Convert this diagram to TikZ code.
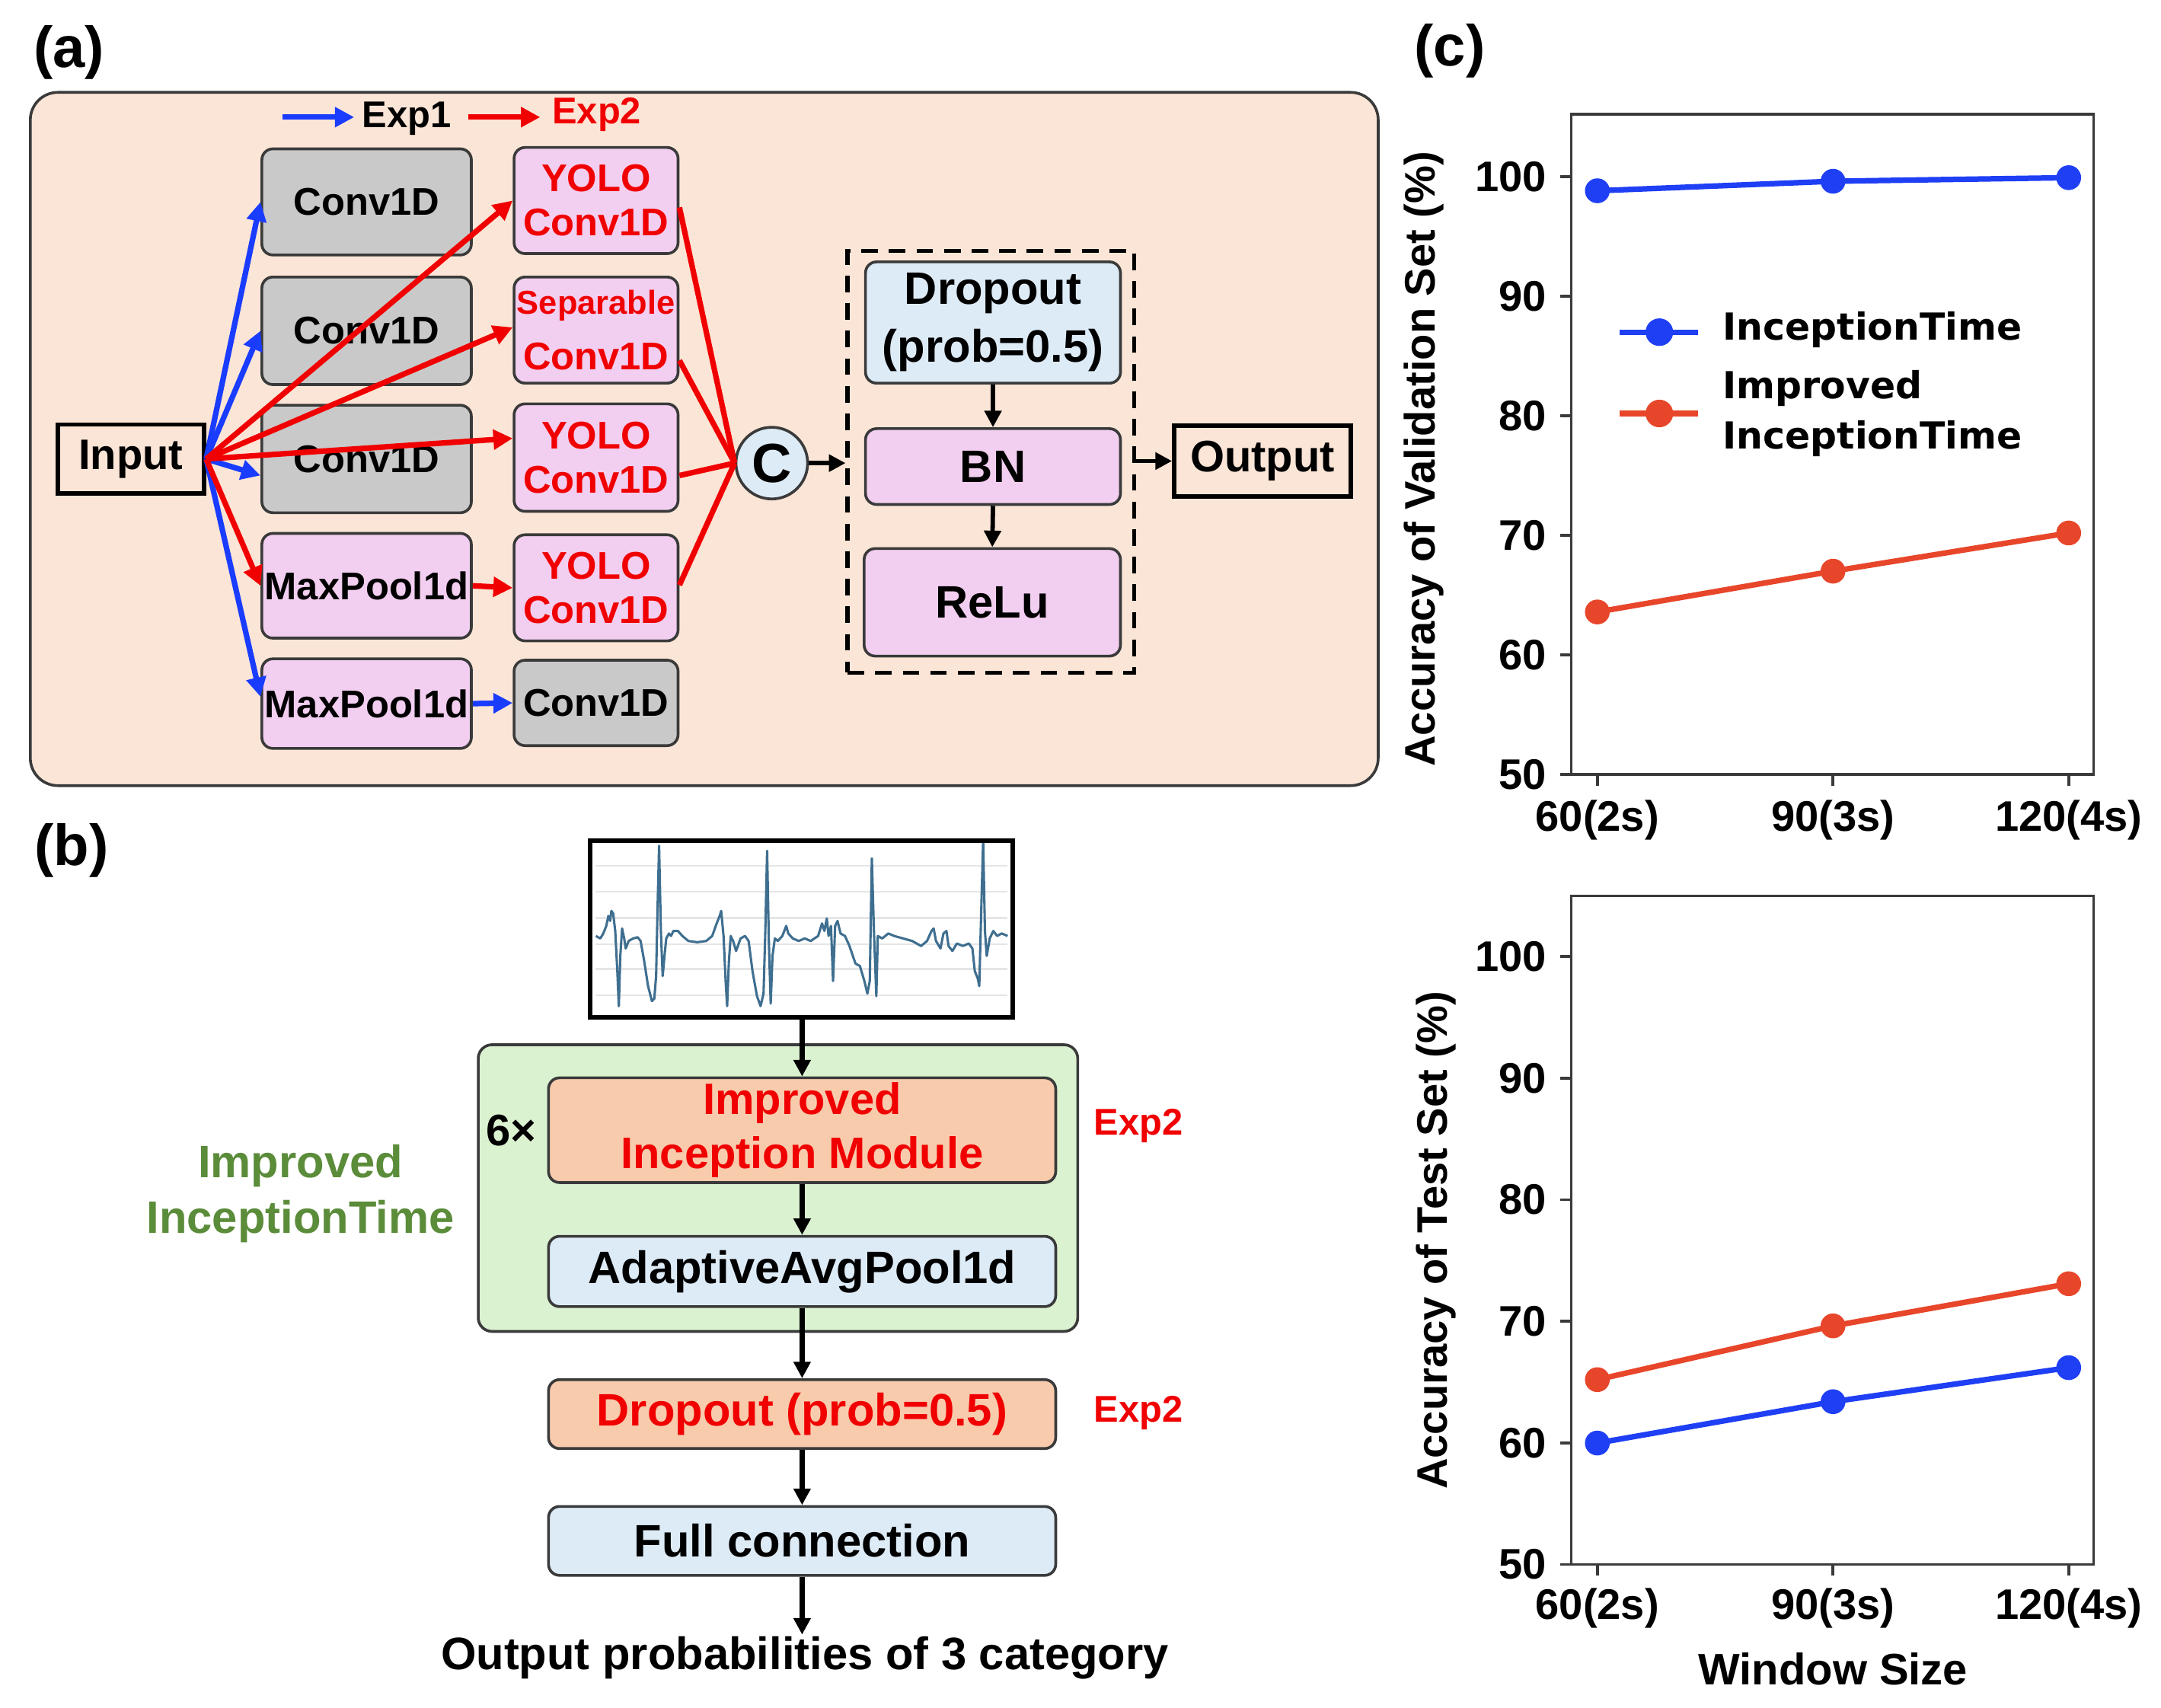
\documentclass[tikz,border=0pt]{standalone}
\usepackage{fontspec}
\setmainfont{Liberation Sans}
\newfontfamily\djv{DejaVu Sans}
\usetikzlibrary{arrows.meta,calc}
\definecolor{bgpeach}{HTML}{FBE5D6}
\definecolor{edge}{HTML}{3A3A3A}
\definecolor{grayf}{HTML}{C9C9C9}
\definecolor{pinkf}{HTML}{F2CEF0}
\definecolor{bluef}{HTML}{DDEBF7}
\definecolor{salmon}{HTML}{F8CBAD}
\definecolor{greenf}{HTML}{DAF2D0}
\definecolor{tred}{HTML}{F00000}
\definecolor{ablue}{HTML}{1A3CFF}
\definecolor{tgreen}{HTML}{5B8C3A}
\definecolor{pblue}{HTML}{1F3FF5}
\definecolor{pred}{HTML}{E8462B}
\definecolor{ecgc}{HTML}{3F6F90}
\definecolor{gridc}{HTML}{E6E6E6}
\newcommand{\fsz}[2]{\fontsize{#1}{#2}\selectfont\bfseries}
\begin{document}
\begin{tikzpicture}[x=0.5pt,y=-0.5pt,
  bx/.style={draw=edge, line width=1pt, rounded corners=4pt, inner sep=0pt, align=center},
  gb/.style={bx, fill=grayf, font=\fsz{14}{16}},
  pb/.style={bx, fill=pinkf, font=\fsz{14}{16}},
  rb/.style={bx, fill=pinkf, text=tred, font=\fsz{14}{16}},
  lb/.style={bx, fill=bluef, font=\fsz{16.5}{21}},
  sb/.style={bx, fill=salmon, text=tred, font=\fsz{16}{19.5}},
  plain/.style={draw=black, line width=1.6pt, inner sep=0pt},
  barr/.style={draw=ablue, line width=2pt, -{Triangle[length=7pt,width=7pt]}},
  rarr/.style={draw=tred, line width=2pt, -{Triangle[length=7pt,width=7pt]}},
  rline/.style={draw=tred, line width=2pt},
  karr/.style={draw=black, line width=1.6pt, -{Triangle[length=6pt,width=6pt]}},
  axisl/.style={draw=edge, line width=1pt},
  tick/.style={font=\fsz{15.5}{18}},
  plab/.style={font=\fsz{21}{24}}
]
\useasboundingbox (0,0) rectangle (1568,1239);
\fill[white] (0,0) rectangle (1568,1239);

% ---------------- panel (a)
\node[plab] (la) at (50,38) {(a)};
\draw[draw=edge, fill=bgpeach, line width=1pt, rounded corners=10pt] (22,67) rectangle (1000,570);

\coordinate (l1a) at (205,85); \coordinate (l1b) at (257,85);
\coordinate (l2a) at (340,85); \coordinate (l2b) at (392,85);
\draw[barr] (l1a) -- (l1b);
\draw[rarr] (l2a) -- (l2b);
\node[font=\fsz{13.5}{16}] (e1) at (295,86) {Exp1};
\node[font=\fsz{13.5}{16}, text=tred] (e2) at (433,83) {Exp2};

\node[gb, minimum width=76pt, minimum height=38.5pt] (c1) at (266,146.5) {Conv1D};
\node[gb, minimum width=76pt, minimum height=39pt] (c2) at (266,240) {Conv1D};
\node[gb, minimum width=76pt, minimum height=39pt] (c3) at (266,333) {Conv1D};
\node[pb, minimum width=76pt, minimum height=38pt] (m1) at (266,425) {MaxPool1d};
\node[pb, minimum width=76pt, minimum height=32.5pt] (m2) at (266,510.5) {MaxPool1d};

\node[rb, minimum width=59.5pt, minimum height=38.5pt] (y1) at (432.5,145.5) {YOLO\\Conv1D};
\node[rb, minimum width=59.5pt, minimum height=38.5pt] (s2) at (432.5,239.5) {{\fsz{12}{14}Separable}\\[4pt]Conv1D};
\node[rb, minimum width=59.5pt, minimum height=39pt] (y3) at (432.5,332) {YOLO\\Conv1D};
\node[rb, minimum width=59.5pt, minimum height=38.5pt] (y4) at (432.5,426.5) {YOLO\\Conv1D};
\node[gb, minimum width=59.5pt, minimum height=31pt] (g5) at (432.5,510) {Conv1D};

\node[plain, minimum width=53pt, minimum height=25pt, font=\fsz{15.5}{18}] (inp) at (95,333) {Input};
\node[plain, minimum width=64pt, minimum height=25.5pt, font=\fsz{16}{18}] (out) at (916,334.5) {Output};

\node[circle, draw=edge, fill=bluef, line width=1pt, minimum size=26pt, inner sep=0pt, font=\fsz{20}{22}] (cc) at (560,336) {C};

\node[draw=black, line width=1.5pt, dash pattern=on 6pt off 4pt, minimum width=104pt, minimum height=153pt, inner sep=0pt] (dbox) at (719,335) {};
\node[lb, minimum width=92.5pt, minimum height=44pt] (dr) at (720.5,234) {Dropout\\(prob=0.5)};
\node[pb, font=\fsz{16.5}{20}, minimum width=92.5pt, minimum height=27.5pt] (bn) at (720.5,338.5) {BN};
\node[pb, font=\fsz{16.5}{20}, minimum width=93pt, minimum height=39pt] (re) at (720,437) {ReLu};

% connectors (a)
\draw[barr] (inp.east) -- (c1.west);
\draw[barr] (inp.east) -- (c2.west);
\draw[barr] (inp.east) -- ($(c3.west)+(0,12)$);
\draw[barr] (inp.east) -- ($(m2.west)+(0,-5)$);
\draw[barr] (m2.east) -- (g5.west);
\draw[rarr] (inp.east) -- (y1.west);
\draw[rarr] (inp.east) -- ($(s2.west)+(0,-2)$);
\draw[rarr] (inp.east) -- ($(y3.west)+(0,-14)$);
\draw[rarr] (inp.east) -- (m1.west);
\draw[rarr] (m1.east) -- (y4.west);
\draw[rline] ($(y1.east)+(0,5)$) -- (cc.west);
\draw[rline] ($(s2.east)+(0,22)$) -- (cc.west);
\draw[rline] ($(y3.east)+(0,13)$) -- (cc.west);
\draw[rline] ($(y4.east)+(0,-2)$) -- (cc.west);
\draw[karr] (cc.east) -- (cc.east -| dbox.west);
\draw[karr] (out.west -| dbox.east) -- (out.west);
\draw[karr] (dr.south) -- (bn.north);
\draw[karr] (bn.south) -- (re.north);

% ---------------- panel (b)
\node[plab] (lb) at (52,617) {(b)};
\foreach \g in {628,647,666,685,703,722} \draw[gridc, line width=0.6pt] (432,\g) -- (731,\g);
\begin{scope}[shift={(410.68,602.73)}, xscale=0.2165, yscale=0.1818]
\draw[ecgc, line width=0.85pt, line join=round] plot coordinates {
(100,420) (115,430) (125,410) (135,380) (142,340) (148,360) (152,320) (158,330) (165,400) (172,560) (177,700) (182,500) (188,390) (195,430) (200,470) (210,440) (225,430) (240,425) (250,440) (262,520) (275,620) (288,680) (296,670) (302,580) (307,300) (312,60) (318,400) (324,580) (330,500) (336,430) (345,410) (352,420) (360,400) (375,400) (390,420) (410,440) (440,445) (470,440) (490,420) (505,370) (515,340) (520,320) (528,420) (535,600) (540,700) (546,520) (552,420) (560,440) (570,480) (585,430) (600,420) (612,440) (625,560) (640,660) (652,700) (662,650) (668,400) (674,80) (680,450) (686,690) (692,500) (700,430) (710,440) (725,420) (738,380) (745,410) (760,430) (780,440) (800,430) (820,440) (845,420) (858,370) (866,400) (874,350) (880,420) (888,380) (895,600) (902,380) (910,360) (920,410) (935,420) (950,460) (970,530) (985,540) (1000,600) (1010,650) (1018,600) (1025,110) (1032,400) (1040,660) (1045,420) (1060,430) (1080,410) (1100,420) (1130,430) (1160,440) (1190,460) (1210,440) (1225,400) (1232,390) (1240,440) (1255,470) (1265,410) (1275,400) (1282,460) (1295,480) (1310,450) (1330,460) (1350,450) (1362,470) (1370,560) (1380,590) (1385,620) (1392,300) (1398,40) (1404,400) (1410,500) (1420,430) (1432,400) (1445,420) (1460,410) (1480,420)};
\end{scope}
\node[draw=black, line width=1.6pt, minimum width=153.5pt, minimum height=64pt, inner sep=0pt] (ecg) at (581.5,674) {};

\node[draw=edge, fill=greenf, line width=1pt, rounded corners=5pt, minimum width=217.5pt, minimum height=104pt, inner sep=0pt] (gbox) at (564.5,862) {};
\node[sb, minimum width=184pt, minimum height=38pt] (iim) at (582,820) {Improved\\Inception Module};
\node[lb, font=\fsz{16.5}{20}, minimum width=184pt, minimum height=25.5pt] (aap) at (582,922.5) {AdaptiveAvgPool1d};
\node[sb, font=\fsz{16.5}{20}, minimum width=184pt, minimum height=25pt] (dr2) at (582,1026) {Dropout (prob=0.5)};
\node[lb, font=\fsz{16.5}{20}, minimum width=184pt, minimum height=25pt] (fc) at (582,1118) {Full connection};
\node[font=\fsz{16.5}{20}] (op) at (584,1203) {Output probabilities of 3 category};
\coordinate (opt) at (582,1186);

\node[font=\fsz{16}{18}] (six) at (371,820) {6×};
\node[font=\fsz{13.5}{16}, text=tred] (x1) at (826,817) {Exp2};
\node[font=\fsz{13.5}{16}, text=tred] (x2) at (826,1025) {Exp2};
\node[font=\fsz{16.5}{20}, text=tgreen, align=center] (it) at (218,866) {Improved\\InceptionTime};

\draw[karr, line width=1.8pt] (ecg.south -| iim.north) -- (iim.north);
\draw[karr, line width=1.8pt] (iim.south) -- (aap.north);
\draw[karr, line width=1.8pt] (aap.south) -- (dr2.north);
\draw[karr, line width=1.8pt] (dr2.south) -- (fc.north);
\draw[karr, line width=1.8pt] (fc.south) -- (opt);

% ---------------- panel (c)
\node[plab] (lc) at (1052,37) {(c)};
% plot 1
\draw[axisl] (1140,83) rectangle (1519,562);
\foreach \v in {50,60,70,80,90,100} {
  \draw[axisl] (1132,{562-(\v-50)*8.68}) -- (1140,{562-(\v-50)*8.68});
  \node[tick, anchor=east] at (1129,{562-(\v-50)*8.68}) {\v};
}
\foreach \xx/\ll in {1159/{60(2s)},1330/{90(3s)},1501/{120(4s)}} {
  \draw[axisl] (\xx,562) -- (\xx,570);
  \node[tick] at (\xx,595) {\ll};
}
\node[tick, rotate=90] (yl1) at (1033,333) {Accuracy of Validation Set (\%)};
\draw[pblue, line width=2pt] (1159,138.4) -- (1330,131.5) -- (1501,128.9);
\foreach \p in {(1159,138.4),(1330,131.5),(1501,128.9)} \fill[pblue] \p circle (4.5pt);
\draw[pred, line width=2pt] (1159,444) -- (1330,414.4) -- (1501,386.7);
\foreach \p in {(1159,444),(1330,414.4),(1501,386.7)} \fill[pred] \p circle (4.5pt);
% legend
\draw[pblue, line width=2pt] (1175,241) -- (1232,241);
\fill[pblue] (1204,241) circle (5pt);
\draw[pred, line width=2pt] (1175,300) -- (1232,300);
\fill[pred] (1204,300) circle (5pt);
\node[font=\djv\fsz{13.5}{18.5}, anchor=west] (lg1) at (1243,239) {InceptionTime};
\node[font=\djv\fsz{13.5}{18.5}, anchor=west, align=left] (lg2) at (1243,300) {Improved\\InceptionTime};

% plot 2
\draw[axisl] (1140,650) rectangle (1519,1135);
\foreach \v in {50,60,70,80,90,100} {
  \draw[axisl] (1132,{1135-(\v-50)*8.82}) -- (1140,{1135-(\v-50)*8.82});
  \node[tick, anchor=east] at (1129,{1135-(\v-50)*8.82}) {\v};
}
\foreach \xx/\ll in {1159/{60(2s)},1330/{90(3s)},1501/{120(4s)}} {
  \draw[axisl] (\xx,1135) -- (\xx,1143);
  \node[tick] at (\xx,1167) {\ll};
}
\node[tick, rotate=90] (yl2) at (1042,900) {Accuracy of Test Set (\%)};
\node[font=\fsz{16}{18}] (wsz) at (1330,1211) {Window Size};
\draw[pred, line width=2pt] (1159,1001) -- (1330,962) -- (1501,931.4);
\foreach \p in {(1159,1001),(1330,962),(1501,931.4)} \fill[pred] \p circle (4.5pt);
\draw[pblue, line width=2pt] (1159,1047) -- (1330,1017) -- (1501,992.3);
\foreach \p in {(1159,1047),(1330,1017),(1501,992.3)} \fill[pblue] \p circle (4.5pt);
\end{tikzpicture}
\end{document}
